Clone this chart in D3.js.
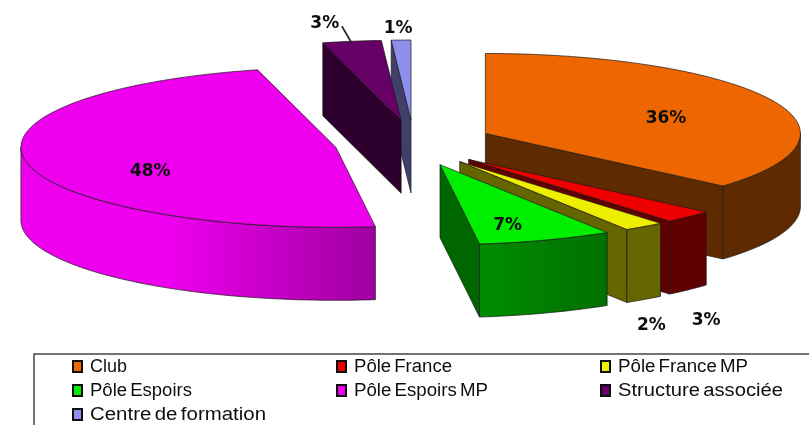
<!DOCTYPE html>
<html>
<head>
<meta charset="utf-8">
<script src="https://cdn.jsdelivr.net/npm/d3@7"></script>
<style>
  html, body { margin: 0; padding: 0; background: #fff; overflow: hidden; }
  text { font-family: "Liberation Sans", sans-serif; }
</style>
</head>
<body>
<div id="chart"></div>
<script>
// Values (printed labels are these, rounded)
const categories = ["Club", "Pôle France", "Pôle France MP", "Pôle Espoirs", "Pôle Espoirs MP", "Structure associée", "Centre de formation"];
const shares = [36.4, 2.6, 2.1, 6.9, 48, 3, 1];
const shareLabels = ["36%", "3%", "2%", "7%", "48%", "3%", "1%"];
const topColors = ["#ee6600", "#ee0000", "#eeee00", "#00ee00", "#ee00ee", "#660066", "#8f8fee"];
const sideColors = ["#602c00", "#600000", "#666600", "#006600", "#a000a0", "#2d002d", "#3f3f6b"];

const width = 809;
const height = 425;

const cx = 413.5, cy = 143;   // pie centre before the slices are pulled out
const rx = 315, ry = 80;      // tilted disc
const depth = 73;
const pullX = 79, pullY = 23;

const svg = d3.select("#chart").append("svg")
  .attr("width", width)
  .attr("height", height);

const defs = svg.append("defs");
defs.append("filter").attr("id", "soft")
  .attr("x", "-5%").attr("y", "-5%").attr("width", "110%").attr("height", "110%")
  .append("feGaussianBlur").attr("stdDeviation", 0.6);

function wallGradient(id, stops) {
  const g = defs.append("linearGradient").attr("id", id);
  stops.forEach(s => g.append("stop").attr("offset", s[0]).attr("stop-color", s[1]));
}
wallGradient("wall4", [[0, "#ee00ee"], [0.42, "#ee00ee"], [1, "#a000a0"]]);
wallGradient("wall3", [[0, "#008c00"], [1, "#007000"]]);

const pie = d3.pie().sort(null).value(d => d);
const arcs = pie(shares).map((a, i) => ({ ...a, i, mid: (a.startAngle + a.endAngle) / 2 }));

const plot = svg.append("g").attr("filter", "url(#soft)");
const line = d3.line();

// angle measured clockwise from 12 o'clock, as d3.pie gives it
function apex(d) {
  return [cx + pullX * Math.sin(d.mid), cy - pullY * Math.cos(d.mid)];
}
function rim(d, a) {
  const p = apex(d);
  return [p[0] + rx * Math.sin(a), p[1] - ry * Math.cos(a)];
}
function rimPoints(d, a0, a1) {
  const n = Math.max(2, Math.ceil((a1 - a0) * 40));
  return d3.range(n + 1).map(k => rim(d, a0 + (a1 - a0) * k / n));
}
const drop = p => [p[0], p[1] + depth];

function face(points, fill) {
  plot.append("path")
    .attr("d", line(points) + "Z")
    .attr("fill", fill)
    .attr("stroke", "#1a1a1a")
    .attr("stroke-width", 0.7)
    .attr("stroke-linejoin", "round");
}

// back slices first
const order = arcs.slice().sort((a, b) => d3.ascending(-Math.cos(a.mid), -Math.cos(b.mid)));

order.forEach(d => {
  const c = apex(d);
  const side = sideColors[d.i];

  // flat cut faces that look toward the viewer
  if (Math.sin(d.startAngle) < 0) {
    const e = rim(d, d.startAngle);
    face([c, e, drop(e), drop(c)], side);
  }
  if (Math.sin(d.endAngle) > 0) {
    const e = rim(d, d.endAngle);
    face([c, e, drop(e), drop(c)], side);
  }

  // outer wall, front half of the rim only
  const a0 = Math.max(d.startAngle, Math.PI / 2);
  const a1 = Math.min(d.endAngle, Math.PI * 1.5);
  if (a1 > a0) {
    const pts = rimPoints(d, a0, a1);
    const fill = d.i === 4 ? "url(#wall4)" : d.i === 3 ? "url(#wall3)" : side;
    face(pts.concat(pts.map(drop).reverse()), fill);
  }

  // top
  face([c].concat(rimPoints(d, d.startAngle, d.endAngle)), topColors[d.i]);
});

// leader of the 3% structure label
const structure = arcs[5];
const leaderEnd = rim(structure, structure.mid);
plot.append("line")
  .attr("x1", leaderEnd[0] - 10).attr("y1", leaderEnd[1] - 15)
  .attr("x2", leaderEnd[0]).attr("y2", leaderEnd[1] + 2)
  .attr("stroke", "#222")
  .attr("stroke-width", 1.6);

// label placement: fraction of the radius, then a drop in px
const labelRadius = [0.63, 1.08, 1.04, 0.64, 0.6, 1.55, 1.3];
const labelDrop = [4, 98, 95, 11, 14, 24, 11];

plot.selectAll("text.pct")
  .data(arcs)
  .join("text")
  .attr("class", "pct")
  .attr("x", d => apex(d)[0] + labelRadius[d.i] * rx * Math.sin(d.mid))
  .attr("y", d => apex(d)[1] - labelRadius[d.i] * ry * Math.cos(d.mid) + labelDrop[d.i])
  .attr("text-anchor", "middle")
  .attr("dy", ".35em")
  .style("font-family", "'DejaVu Sans', sans-serif")
  .style("font-size", "17px")
  .style("font-weight", "bold")
  .attr("fill", "#111")
  .text(d => shareLabels[d.i]);

// legend
const legend = svg.append("g").attr("filter", "url(#soft)");
const legendLeft = 34, legendTop = 354;
legend.append("path")
  .attr("d", `M${width},${legendTop}H${legendLeft}V${height}`)
  .attr("fill", "none")
  .attr("stroke", "#444")
  .attr("stroke-width", 1.5);

const colX = d3.scalePoint().domain([0, 1, 2]).range([73, 601]);
const rowY = d3.scalePoint().domain([0, 1, 2]).range([366, 414]);
const legendTextWidths = [37, 98, 130, 102, 134, 165, 176];

const items = legend.selectAll("g.item")
  .data(categories)
  .join("g")
  .attr("class", "item")
  .attr("transform", (d, i) => `translate(${colX(i % 3)},${rowY(Math.floor(i / 3))})`);

items.append("rect")
  .attr("x", 0).attr("y", -5)
  .attr("width", 9).attr("height", 11)
  .attr("fill", (d, i) => topColors[i])
  .attr("stroke", "#111")
  .attr("stroke-width", 2);

items.append("text")
  .attr("x", 17)
  .attr("dy", ".35em")
  .attr("textLength", (d, i) => legendTextWidths[i])
  .attr("lengthAdjust", "spacingAndGlyphs")
  .style("font-size", "18px")
  .style("word-spacing", "-2px")
  .attr("fill", "#111")
  .text(d => d);
</script>
</body>
</html>
